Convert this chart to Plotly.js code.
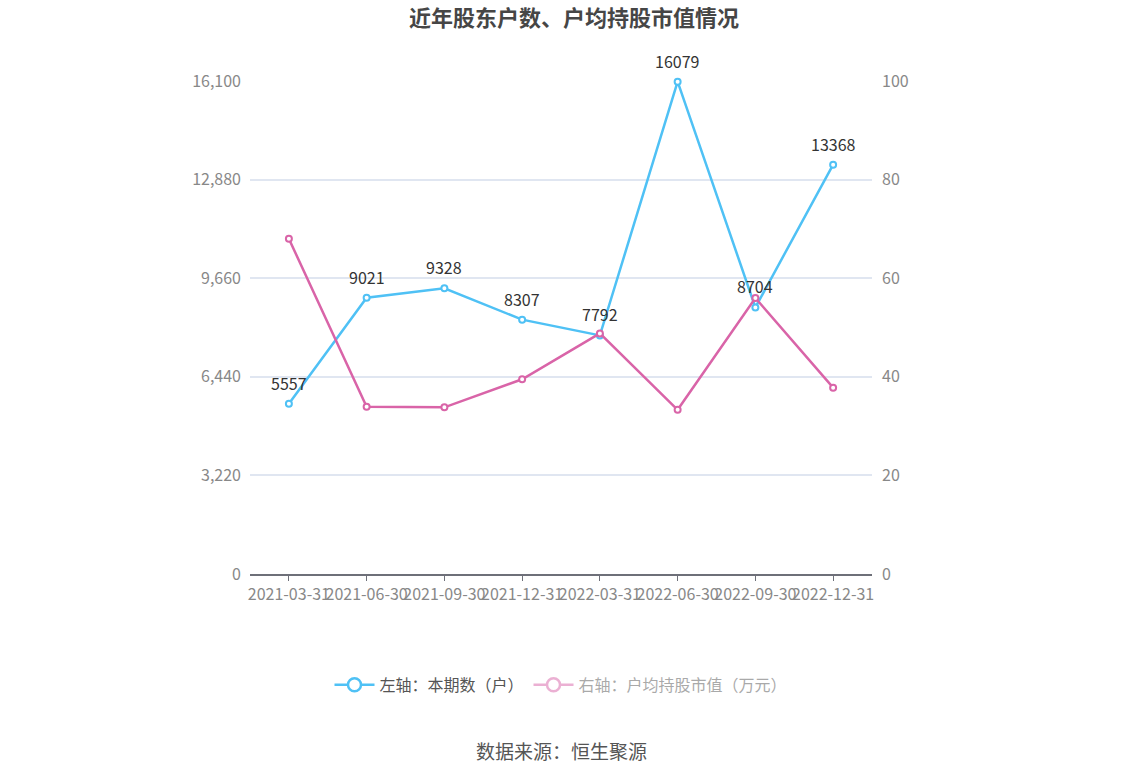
<!DOCTYPE html>
<html>
<head>
<meta charset="utf-8">
<script src="https://cdn.plot.ly/plotly-3.0.1.min.js"></script>
<style>html,body{margin:0;padding:0;background:#fff;}#chart{width:1148px;height:776px;}</style>
</head>
<body>
<div id="chart"></div>
<script>
const categories = ['2021-03-31','2021-06-30','2021-09-30','2021-12-31','2022-03-31','2022-06-30','2022-09-30','2022-12-31'];
const holders = [5557, 9021, 9328, 8307, 7792, 16079, 8704, 13368];
const avgValue = [68.0, 33.9, 33.8, 39.5, 48.8, 33.3, 56.0, 37.8];
const leftTicks = [0, 3220, 6440, 9660, 12880, 16100];
const rightTicks = [0, 20, 40, 60, 80, 100];
const blueName = '左轴：本期数（户）';
const pinkName = '右轴：户均持股市值（万元）';

const font = '"Noto Sans CJK SC", "Noto Sans", sans-serif';
const blue = '#4fc1f5';
const pink = '#d964a8';

const traces = [
  {
    x: categories, y: holders, name: blueName, type: 'scatter', mode: 'lines+markers',
    line: {color: blue, width: 2.5},
    marker: {symbol: 'circle', size: 6, color: '#fff', line: {width: 2, color: blue}},
    yaxis: 'y', showlegend: false, cliponaxis: false
  },
  {
    x: categories, y: avgValue, name: pinkName, type: 'scatter', mode: 'lines+markers',
    line: {color: pink, width: 2.5},
    marker: {symbol: 'circle', size: 6, color: '#fff', line: {width: 2, color: pink}},
    yaxis: 'y2', showlegend: false, cliponaxis: false
  },
  // legend entries only (a single empty point, nothing drawn in the plot area)
  {
    x: [categories[0]], y: [null], name: blueName, type: 'scatter', mode: 'lines+markers',
    line: {color: blue, width: 2.5},
    marker: {symbol: 'circle', size: 13, color: '#fff', line: {width: 2.5, color: blue}},
    yaxis: 'y', hoverinfo: 'skip'
  },
  {
    x: [categories[0]], y: [null], name: pinkName, type: 'scatter', mode: 'lines+markers',
    line: {color: pink, width: 2.5},
    marker: {symbol: 'circle', size: 13, color: '#fff', line: {width: 2.5, color: pink}},
    yaxis: 'y2', visible: 'legendonly', hoverinfo: 'skip'
  }
];

const labels = categories.map((c, i) => ({
  x: c, y: holders[i], xref: 'x', yref: 'y', text: String(holders[i]),
  showarrow: false, yshift: 21, font: {family: font, size: 16, color: '#333'}
}));

const layout = {
  width: 1148, height: 776,
  margin: {l: 250, r: 276, t: 81, b: 202},
  paper_bgcolor: '#fff', plot_bgcolor: '#fff',
  font: {family: font, color: '#666'},
  title: {text: '<b>近年股东户数、户均持股市值情况</b>', x: 0.5, xanchor: 'center', y: 0.976, yanchor: 'middle',
          font: {family: font, size: 22, color: '#464646'}},
  showlegend: true,
  legend: {orientation: 'h', x: 0.5, xanchor: 'center', y: -0.225, yanchor: 'middle',
           font: {family: font, size: 16, color: '#555'}, itemclick: false, itemdoubleclick: false,
           itemwidth: 40},
  xaxis: {
    type: 'category', range: [-0.5, 7.5], showgrid: false, zeroline: false,
    showline: true, linecolor: '#6e7079', linewidth: 1.5,
    ticks: 'outside', ticklen: 5, tickcolor: '#6e7079',
    tickfont: {family: font, size: 16, color: '#888'}, tickangle: 0, fixedrange: true
  },
  yaxis: {
    range: [0, 16100], tickvals: leftTicks, ticktext: leftTicks.map(v => v.toLocaleString('en-US')),
    showgrid: true, gridcolor: '#e0e6f1', gridwidth: 1.5, zeroline: false, showline: false,
    ticks: '', tickfont: {family: font, size: 16, color: '#888'}, ticklabelstandoff: 8
  },
  yaxis2: {
    overlaying: 'y', side: 'right', range: [0, 100], tickvals: rightTicks,
    showgrid: false, zeroline: false, showline: false, ticks: '',
    tickfont: {family: font, size: 16, color: '#888'}, ticklabelstandoff: 9
  },
  annotations: labels.concat([
    {text: '数据来源：恒生聚源', xref: 'paper', yref: 'paper', x: 0.5, xanchor: 'center',
     y: -0.357, yanchor: 'middle', showarrow: false, font: {family: font, size: 19, color: '#555'}}
  ])
};

Plotly.newPlot('chart', traces, layout, {displayModeBar: false});
</script>
</body>
</html>
